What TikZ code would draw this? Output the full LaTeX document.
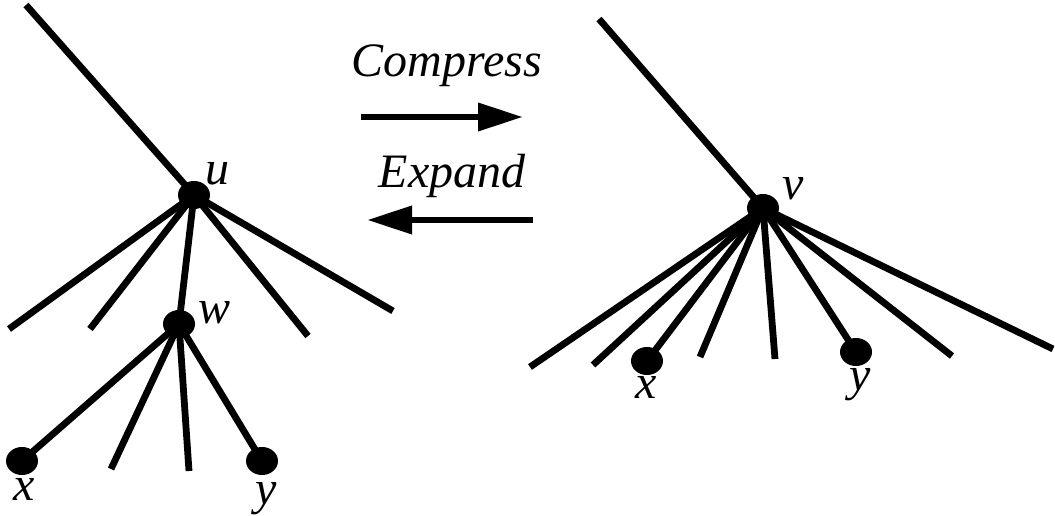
\documentclass[tikz,border=0pt]{standalone}
\usepackage{fontspec}
\newfontfamily\fserif{Liberation Serif}
\usetikzlibrary{shapes.geometric,arrows.meta}
\begin{document}
\begin{tikzpicture}[x=1pt,y=-1pt,
  dotnode/.style={ellipse,fill=black,minimum width=32pt,minimum height=28pt,inner sep=0pt},
  edge/.style={line width=6.8pt},
  lbl/.style={font=\fserif\fontsize{48}{48}\selectfont\itshape,anchor=base,inner sep=0pt},
  captxt/.style={font=\fserif\fontsize{48}{48}\selectfont\itshape,anchor=base,inner sep=0pt},
  arr/.style={line width=6.8pt,-{Triangle[length=45pt,width=27pt]}}]
\useasboundingbox (0,0) rectangle (1055,516);
% left tree
\node[dotnode] (u) at (194,195) {};
\node[dotnode] (w) at (179,324) {};
\node[dotnode] (x1) at (22,461) {};
\node[dotnode] (y1) at (262,461) {};
\coordinate (ut) at (26,5);
\coordinate (u1) at (9,329);
\coordinate (u2) at (90,329);
\coordinate (u3) at (308,336);
\coordinate (u4) at (393,311);
\coordinate (w1) at (111,469);
\coordinate (w2) at (189,471);
\draw[edge] (ut) -- (u.center);
\draw[edge] (u.center) -- (u1);
\draw[edge] (u.center) -- (u2);
\draw[edge] (u.center) -- (w.center);
\draw[edge] (u.center) -- (u3);
\draw[edge] (u.center) -- (u4);
\draw[edge] (w.center) -- (x1.center);
\draw[edge] (w.center) -- (w1);
\draw[edge] (w.center) -- (w2);
\draw[edge] (w.center) -- (y1.center);
\node[lbl] (lu) at (217,184) {u};
\node[lbl] (lw) at (215,323) {w};
\node[lbl] (lx1) at (24,500) {x};
\node[lbl] (ly1) at (266,504) {y};
% arrows
\node[captxt] (tc) at (447,77) {Compress};
\node[captxt] (te) at (452,187) {Expand};
\coordinate (ca) at (361,117);
\coordinate (cb) at (523,117);
\coordinate (ea) at (533,220);
\coordinate (eb) at (367,220);
\draw[arr] (ca) -- (cb);
\draw[arr] (ea) -- (eb);
% right tree
\node[dotnode] (v) at (763,208) {};
\node[dotnode] (x2) at (647,361) {};
\node[dotnode] (y2) at (856,352) {};
\coordinate (vt) at (599,19);
\coordinate (v1) at (530,367);
\coordinate (v2) at (593,365);
\coordinate (v3) at (700,357);
\coordinate (v4) at (775,359);
\coordinate (v5) at (952,356);
\coordinate (v6) at (1053,349);
\draw[edge] (vt) -- (v.center);
\draw[edge] (v.center) -- (v1);
\draw[edge] (v.center) -- (v2);
\draw[edge] (v.center) -- (x2.center);
\draw[edge] (v.center) -- (v3);
\draw[edge] (v.center) -- (v4);
\draw[edge] (v.center) -- (y2.center);
\draw[edge] (v.center) -- (v5);
\draw[edge] (v.center) -- (v6);
\node[lbl] (lv) at (793,200) {v};
\node[lbl] (lx2) at (646,398) {x};
\node[lbl] (ly2) at (860,390) {y};
\end{tikzpicture}
\end{document}
